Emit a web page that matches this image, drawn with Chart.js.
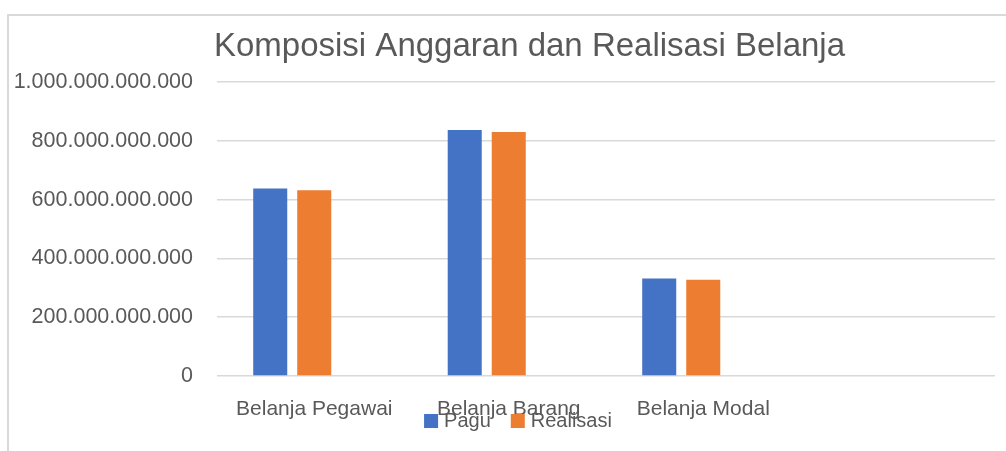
<!DOCTYPE html>
<html>
<head>
<meta charset="utf-8">
<script src="https://cdn.jsdelivr.net/npm/chart.js@4/dist/chart.umd.min.js"></script>
<style>
  html, body { margin: 0; padding: 0; background: #fff; }
  #wrap { position: relative; width: 1006px; height: 451px; }
  #myCanvas { position: absolute; left: 0; top: 0; }
  #frame { position: absolute; left: 7px; top: 14px; width: 1000px; height: 440px;
           border-top: 2px solid #D9D9D9; border-left: 2px solid #D9D9D9; pointer-events: none; }
</style>
</head>
<body>
<div id="wrap">
  <canvas id="myCanvas" width="1006" height="451"></canvas>
  <div id="frame"></div>
</div>
<script>
// data
var kategori = ['Belanja Pegawai', 'Belanja Barang', 'Belanja Modal', ''];
var pagu = [638000000000, 837000000000, 332000000000, null];
var realisasi = [632000000000, 830000000000, 327000000000, null];
var kosong = [null, null, null, null]; // third (empty) series kept in the excel chart
var yTicks = [0, 200000000000, 400000000000, 600000000000, 800000000000, 1000000000000];

var corTexto = '#595959';
var fonte = '"Liberation Sans", Arial, sans-serif';

var formataNumero = function(v) {
    return String(v).replace(/\B(?=(\d{3})+(?!\d))/g, '.');
};

// legend drawn over the category labels, like the original
var legendaPlugin = {
    id: 'legendaSobreposta',
    afterLayout: function(chart) {
        // title in the original sits a bit right of the canvas centre
        if (chart.titleBlock) {
            chart.titleBlock.left += 64;
        }
    },
    afterDraw: function(chart) {
        var ctx = chart.ctx;
        var itens = chart.data.datasets.filter(function(d) { return d.label; });
        ctx.save();
        ctx.font = '20px ' + fonte;
        ctx.textBaseline = 'alphabetic';
        var box = 14, gap = 6, espaco = 20;
        var total = 0;
        itens.forEach(function(d, i) {
            total += box + gap + ctx.measureText(d.label).width + (i > 0 ? espaco : 0);
        });
        var x = 518 - total / 2;
        var yBase = 427;
        itens.forEach(function(d) {
            ctx.fillStyle = d.backgroundColor;
            ctx.fillRect(x, yBase - 13, box, box);
            x += box + gap;
            ctx.fillStyle = corTexto;
            ctx.fillText(d.label, x, yBase);
            x += ctx.measureText(d.label).width + espaco;
        });
        ctx.restore();
    }
};

var grafico = new Chart(document.getElementById('myCanvas'), {
    type: 'bar',
    data: {
        labels: kategori,
        datasets: [
            { label: 'Pagu', data: pagu, backgroundColor: '#4472C4' },
            { label: 'Realisasi', data: realisasi, backgroundColor: '#ED7D31' },
            { label: '', data: kosong, backgroundColor: '#A5A5A5' }
        ]
    },
    options: {
        responsive: false,
        animation: false,
        categoryPercentage: 0.679,
        barPercentage: 0.773,
        layout: { padding: { left: 0, right: 11, top: 0, bottom: 0 } },
        plugins: {
            legend: { display: false },
            tooltip: { enabled: false },
            title: {
                display: true,
                text: 'Komposisi Anggaran dan Realisasi Belanja',
                color: corTexto,
                font: { family: fonte, size: 33, weight: 'normal', lineHeight: 1.2 },
                padding: { top: 27, bottom: 15.4 }
            }
        },
        scales: {
            x: {
                grid: { display: false, drawTicks: false },
                border: { display: false },
                ticks: {
                    color: corTexto,
                    font: { family: fonte, size: 21 },
                    padding: 21,
                    maxRotation: 0,
                    autoSkip: false
                },
                afterFit: function(scale) { scale.height = 75; }
            },
            y: {
                min: 0,
                max: 1000000000000,
                afterBuildTicks: function(scale) {
                    scale.ticks = yTicks.map(function(v) { return { value: v }; });
                },
                grid: { color: '#D9D9D9', lineWidth: 1.5, drawTicks: false },
                border: { display: false },
                ticks: {
                    color: corTexto,
                    font: { family: fonte, size: 21.5 },
                    padding: 24,
                    callback: function(v) { return formataNumero(v); }
                },
                afterFit: function(scale) { scale.width = 217; }
            }
        }
    },
    plugins: [legendaPlugin]
});
</script>
</body>
</html>
